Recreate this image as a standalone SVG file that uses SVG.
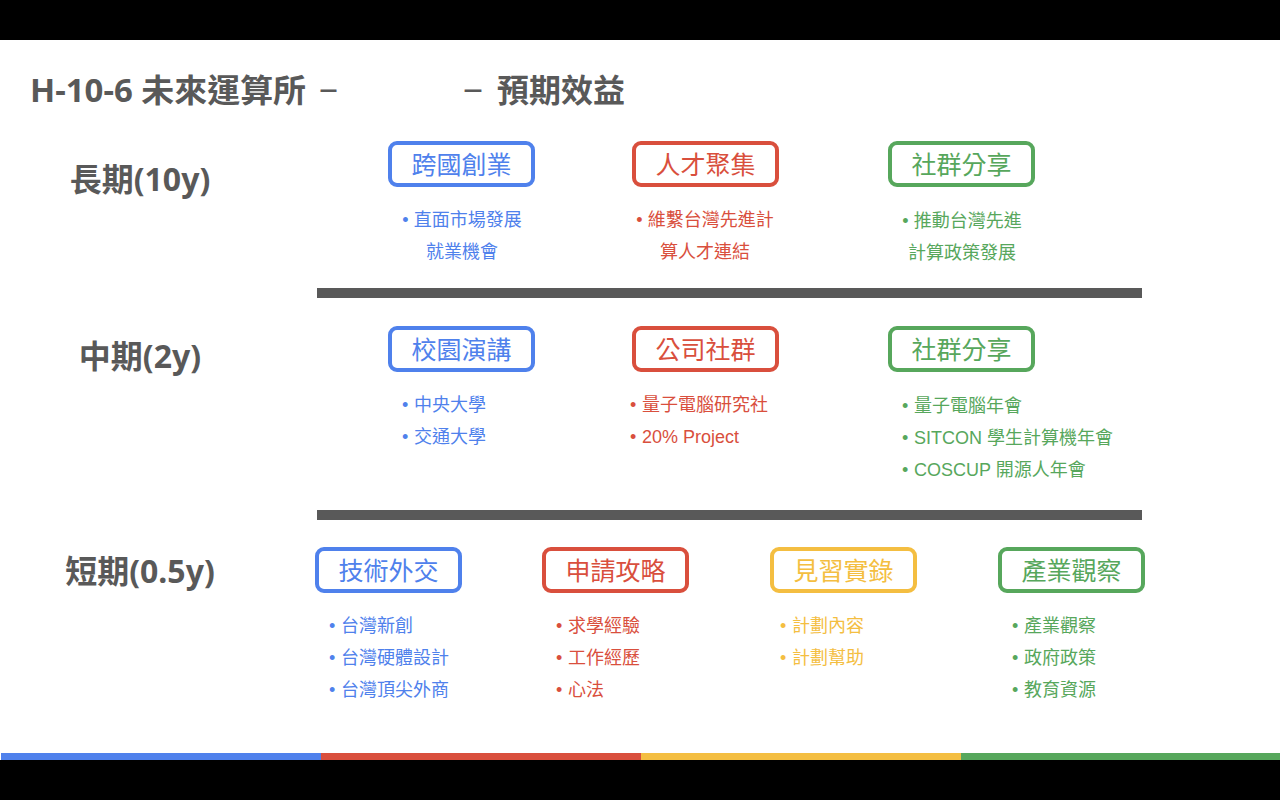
<svg xmlns="http://www.w3.org/2000/svg" width="1280" height="800" viewBox="0 0 1280 800">
<style>
.title{font-family:"Noto Sans","Noto Sans CJK TC",sans-serif;font-weight:700;font-size:32px;fill:#595959}
.dash{font-family:"Noto Sans",sans-serif;font-weight:400;font-size:32px;fill:#595959}
.row{font-family:"Noto Sans","Noto Sans CJK TC",sans-serif;font-weight:700;font-size:32px;fill:#595959;text-anchor:middle}
.box{fill:#fff;stroke-width:4}
.bt{font-family:"Liberation Sans","Noto Sans CJK TC",sans-serif;font-size:25px;text-anchor:middle}
.it{font-family:"Liberation Sans","Noto Sans CJK TC",sans-serif;font-size:18px}
.c{text-anchor:middle}
.b{fill:#4f81ec;stroke:#4f81ec}
.r{fill:#d94f3d;stroke:#d94f3d}
.y{fill:#f4be41;stroke:#f4be41}
.g{fill:#57a75c;stroke:#57a75c}
.bt.b,.bt.r,.bt.y,.bt.g,.it.b,.it.r,.it.y,.it.g{stroke:none}
.box.b,.box.r,.box.y,.box.g{fill:#fff}
.sep{fill:#595959}
</style>
<rect x="0" y="0" width="1280" height="800" fill="#000"/>
<rect x="0" y="40" width="1280" height="720" fill="#fff"/>
<g id="footer">
<rect x="1" y="753" width="320" height="7" fill="#4f81ec"/>
<rect x="321" y="753" width="320" height="7" fill="#d94f3d"/>
<rect x="641" y="753" width="320" height="7" fill="#f4be41"/>
<rect x="961" y="753" width="319" height="7" fill="#57a75c"/>
</g>
<g id="title">
<text class="title" x="30" y="102" textLength="276" lengthAdjust="spacingAndGlyphs">H-10-6 未來運算所</text>
<text class="dash" x="319" y="100" textLength="19" lengthAdjust="spacingAndGlyphs">–</text>
<text class="dash" x="463" y="100" textLength="20" lengthAdjust="spacingAndGlyphs">–</text>
<text class="title" x="497" y="102">預期效益</text>
</g>
<g id="rows">
<text class="row" x="140" y="191">長期(10y)</text>
<text class="row" x="140" y="368">中期(2y)</text>
<text class="row" x="140" y="583">短期(0.5y)</text>
</g>
<g id="connectors">
<rect class="sep" x="317" y="288" width="825" height="10"/>
<rect class="sep" x="317" y="510" width="825" height="10"/>
</g>
<g id="long-1">
<rect class="box b" x="390" y="143" width="143" height="42" rx="7"/>
<text class="bt b" x="461.5" y="174">跨國創業</text>
<text class="it b c" x="462" y="226">• 直面市場發展</text>
<text class="it b c" x="462" y="258">就業機會</text>
</g>
<g id="long-2">
<rect class="box r" x="634" y="143" width="143" height="42" rx="7"/>
<text class="bt r" x="705.5" y="174">人才聚集</text>
<text class="it r c" x="705" y="226">• 維繫台灣先進計</text>
<text class="it r c" x="705" y="258">算人才連結</text>
</g>
<g id="long-3">
<rect class="box g" x="890" y="143" width="143" height="42" rx="7"/>
<text class="bt g" x="961.5" y="174">社群分享</text>
<text class="it g c" x="962" y="227">• 推動台灣先進</text>
<text class="it g c" x="962" y="259">計算政策發展</text>
</g>
<g id="mid-1">
<rect class="box b" x="390" y="328" width="143" height="42" rx="7"/>
<text class="bt b" x="461.5" y="359">校園演講</text>
<text class="it b" x="402" y="411">•</text><text class="it b" x="414" y="411">中央大學</text>
<text class="it b" x="402" y="443">•</text><text class="it b" x="414" y="443">交通大學</text>
</g>
<g id="mid-2">
<rect class="box r" x="634" y="328" width="143" height="42" rx="7"/>
<text class="bt r" x="705.5" y="359">公司社群</text>
<text class="it r" x="630" y="411">•</text><text class="it r" x="642" y="411">量子電腦研究社</text>
<text class="it r" x="630" y="443">•</text><text class="it r" x="642" y="443">20% Project</text>
</g>
<g id="mid-3">
<rect class="box g" x="890" y="328" width="143" height="42" rx="7"/>
<text class="bt g" x="961.5" y="359">社群分享</text>
<text class="it g" x="902" y="412">•</text><text class="it g" x="914" y="412">量子電腦年會</text>
<text class="it g" x="902" y="444">•</text><text class="it g" x="914" y="444">SITCON 學生計算機年會</text>
<text class="it g" x="902" y="476">•</text><text class="it g" x="914" y="476">COSCUP 開源人年會</text>
</g>
<g id="short-1">
<rect class="box b" x="317" y="549" width="143" height="42" rx="7"/>
<text class="bt b" x="388.5" y="580">技術外交</text>
<text class="it b" x="329" y="632">•</text><text class="it b" x="341" y="632">台灣新創</text>
<text class="it b" x="329" y="664">•</text><text class="it b" x="341" y="664">台灣硬體設計</text>
<text class="it b" x="329" y="696">•</text><text class="it b" x="341" y="696">台灣頂尖外商</text>
</g>
<g id="short-2">
<rect class="box r" x="544" y="549" width="143" height="42" rx="7"/>
<text class="bt r" x="615.5" y="580">申請攻略</text>
<text class="it r" x="556" y="632">•</text><text class="it r" x="568" y="632">求學經驗</text>
<text class="it r" x="556" y="664">•</text><text class="it r" x="568" y="664">工作經歷</text>
<text class="it r" x="556" y="696">•</text><text class="it r" x="568" y="696">心法</text>
</g>
<g id="short-3">
<rect class="box y" x="772" y="549" width="143" height="42" rx="7"/>
<text class="bt y" x="843.5" y="580">見習實錄</text>
<text class="it y" x="780" y="632">•</text><text class="it y" x="792" y="632">計劃內容</text>
<text class="it y" x="780" y="664">•</text><text class="it y" x="792" y="664">計劃幫助</text>
</g>
<g id="short-4">
<rect class="box g" x="1000" y="549" width="143" height="42" rx="7"/>
<text class="bt g" x="1071.5" y="580">產業觀察</text>
<text class="it g" x="1012" y="632">•</text><text class="it g" x="1024" y="632">產業觀察</text>
<text class="it g" x="1012" y="664">•</text><text class="it g" x="1024" y="664">政府政策</text>
<text class="it g" x="1012" y="696">•</text><text class="it g" x="1024" y="696">教育資源</text>
</g>
</svg>
